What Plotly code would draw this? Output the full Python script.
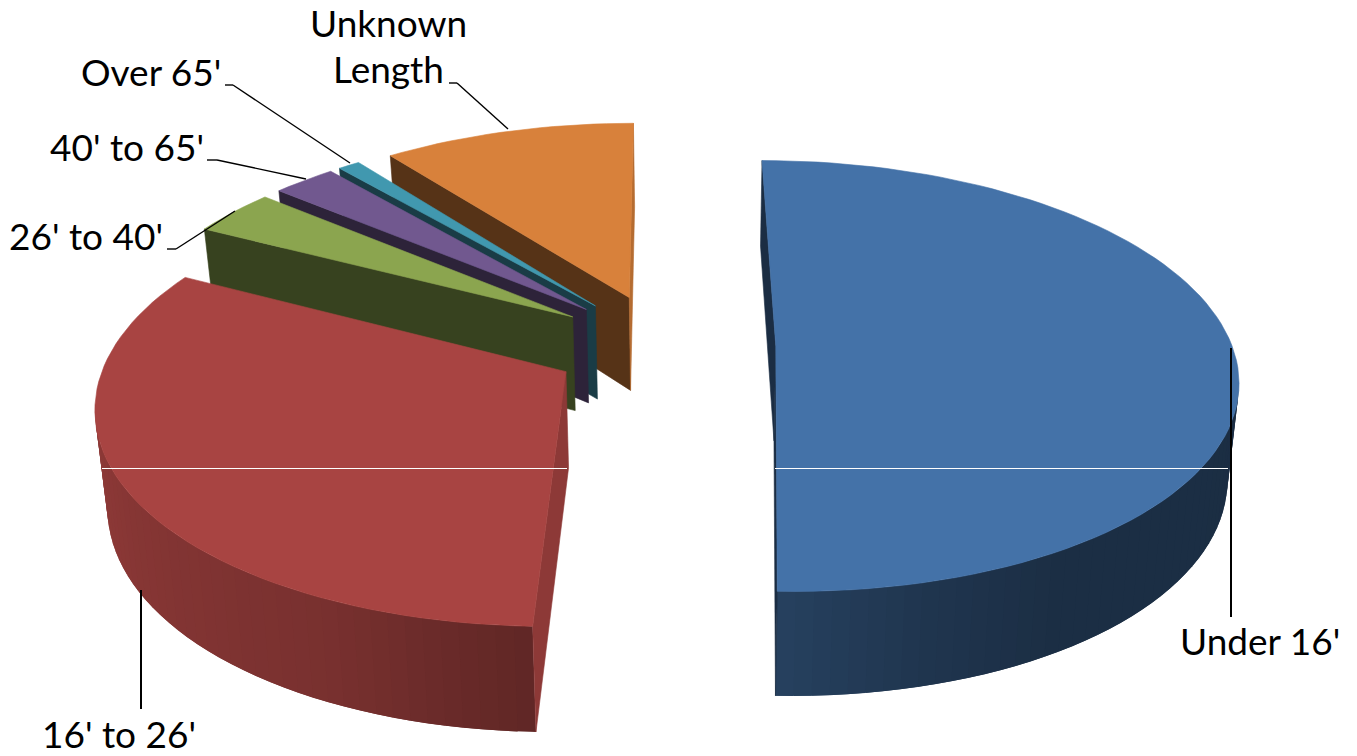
import math
import plotly.graph_objects as go

# Data
labels = ["Under 16'", "16' to 26'", "26' to 40'", "40' to 65'", "Over 65'", "Unknown Length"]
values = [50.5, 32.1, 3.5, 2.6, 0.9, 10.4]
colors = ["#4472A8", "#A84442", "#8BA54F", "#71588F", "#4198AF", "#D8813B"]

# Projection of the exploded 3-D pie
CX, CY, RX, RY, K = 664.0, 345.0, 456.0, 211.0, 0.14
EXPLODE, DEPTH, DEPTH_K = 0.245, 95.0, 0.10
LEAN, LEAN_X = 0.021, 690.0
CAM_Y = -1.0 / K
STEP = 2.0


def project(x, y):
    s = 1.0 / (1.0 + K * y)
    return CX + RX * x * s, CY - RY * y * s


def down(x, y):
    px, py = project(x, y)
    return px - LEAN * (px - LEAN_X), py + DEPTH * (1.0 - DEPTH_K * y)


def rgb(hex_color, f):
    r, g, b = (int(hex_color[i:i + 2], 16) for i in (1, 3, 5))
    return f"rgb({int(r * f)},{int(g * f)},{int(b * f)})"


SHADE = [(0, .40), (90, .40), (150, .41), (165, .47), (180, .56), (205, .72), (250, .83), (270, .85), (360, .92)]


def shade(theta):
    theta %= 360
    for (a, fa), (b, fb) in zip(SHADE, SHADE[1:]):
        if a <= theta <= b:
            return fa + (fb - fa) * (theta - a) / (b - a)
    return .4


def poly(points, color, edge=0.6):
    xs = [p[0] for p in points] + [points[0][0]]
    ys = [p[1] for p in points] + [points[0][1]]
    return go.Scatter(x=xs, y=ys, mode="lines", fill="toself", fillcolor=color,
                      line=dict(color=color, width=edge), hoverinfo="skip", showlegend=False)


fig = go.Figure()

# slice angles
total = sum(values)
spans = []
a = 0.0
for v in values:
    b = a + 360.0 * v / total
    spans.append((a, b))
    a = b

# paint back to front
for idx in [5, 4, 3, 2, 1, 0]:
    t0, t1 = spans[idx]
    col = colors[idx]
    mid = math.radians((t0 + t1) / 2)
    ex, ey = EXPLODE * math.sin(mid), EXPLODE * math.cos(mid)
    n = max(2, int(round((t1 - t0) / STEP)))
    thetas = [t0 + (t1 - t0) * i / n for i in range(n + 1)]
    rim = [(ex + math.sin(math.radians(t)), ey + math.cos(math.radians(t))) for t in thetas]

    # outer curved wall: each strip overlaps the next so that no seams show
    for i in range(n):
        tm = math.radians((thetas[i] + thetas[i + 1]) / 2)
        nx, ny = math.sin(tm), math.cos(tm)
        mx, my = ex + nx, ey + ny
        if mx * nx + (my - CAM_Y) * ny < 0:
            p, q = rim[i], rim[min(i + 2, n)]
            fig.add_trace(poly([project(*p), project(*q), down(*q), down(*p)],
                               rgb(col, shade(math.degrees(tm))), edge=0))

    # flat radial walls
    for theta, sign in ((t0, -1), (t1, 1)):
        r = math.radians(theta + sign * 90)
        nx, ny = math.sin(r), math.cos(r)
        if ex * nx + (ey - CAM_Y) * ny < 0:
            p = (ex + math.sin(math.radians(theta)), ey + math.cos(math.radians(theta)))
            f = .84 if nx > 0 else .40
            fig.add_trace(poly([project(ex, ey), project(*p), down(*p), down(ex, ey)], rgb(col, f)))

    # top face
    fig.add_trace(poly([project(ex, ey)] + [project(*p) for p in rim], col))

# Leader lines
leaders = [
    [(1231, 348), (1231, 617)],
    [(141, 590), (141, 709)],
    [(167, 249), (176, 249), (235, 211)],
    [(207, 160), (217, 160), (306, 179)],
    [(225, 85), (233, 85), (350, 163)],
    [(449, 83), (457, 83), (508, 129)],
]
shapes = []
for k, seg in enumerate(leaders):
    for (x0, y0), (x1, y1) in zip(seg, seg[1:]):
        shapes.append(dict(type="line", xref="x", yref="y", x0=x0, y0=y0, x1=x1, y1=y1,
                           line=dict(color="black", width=2 if k < 2 else 1.4), layer="above"))
for x0, x1 in ((102, 567), (775, 1228)):
    shapes.append(dict(type="line", xref="x", yref="y", x0=x0, y0=468.5, x1=x1, y1=468.5,
                       line=dict(color="white", width=1), layer="above"))

# Labels
label_pos = {
    "Under 16'": (1260, 640.5),
    "16' to 26'": (119, 733.5),
    "26' to 40'": (86, 235),
    "40' to 65'": (127, 146),
    "Over 65'": (151, 71),
}
annotations = [dict(x=x, y=y, xref="x", yref="y", text=t, showarrow=False, xanchor="center",
                    yanchor="middle", font=dict(family="Lato", size=37, color="#000000"))
               for t, (x, y) in label_pos.items()]
for part, y in zip(labels[5].split(" "), (22.5, 68)):
    annotations.append(dict(x=388, y=y, xref="x", yref="y", text=part, showarrow=False,
                            xanchor="center", yanchor="middle",
                            font=dict(family="Lato", size=37, color="#000000")))

fig.update_layout(
    width=1357, height=756, margin=dict(l=0, r=0, t=0, b=0),
    paper_bgcolor="white", plot_bgcolor="white", showlegend=False,
    xaxis=dict(range=[0, 1357], visible=False, fixedrange=True),
    yaxis=dict(range=[756, 0], visible=False, fixedrange=True),
    shapes=shapes, annotations=annotations,
)
fig.write_html("out.html", config=dict(displayModeBar=False),
               post_script="document.body.style.margin='0';document.documentElement.style.overflow='hidden';")
